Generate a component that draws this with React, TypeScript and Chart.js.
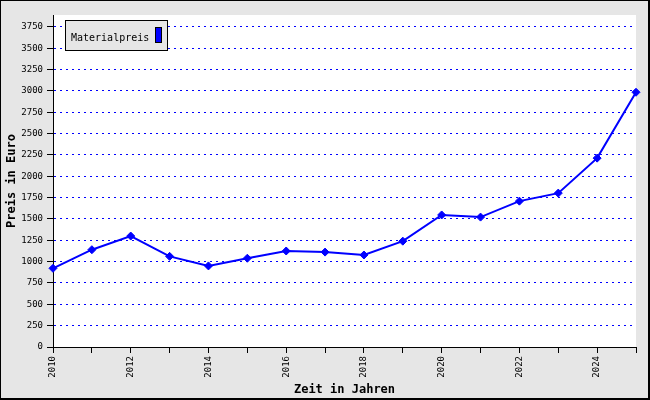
import React, { useEffect, useRef } from "react";
import { Chart, registerables } from "chart.js";

Chart.register(...registerables);

const years = ["2010","2011","2012","2013","2014","2015","2016","2017","2018","2019","2020","2021","2022","2023","2024","2025"];
const materialpreis = [922, 1140, 1300, 1062, 950, 1040, 1125, 1112, 1078, 1240, 1547, 1522, 1709, 1803, 2213, 2985];
const yTicks = [0, 250, 500, 750, 1000, 1250, 1500, 1750, 2000, 2250, 2500, 2750, 3000, 3250, 3500, 3750];
const seriesName = "Materialpreis";
const yTitle = "Preis in Euro";
const xTitle = "Zeit in Jahren";

const MONO = "'DejaVu Sans Mono', monospace";

const framePlugin = {
  id: "frame",
  beforeDraw(chart: any) {
    const { ctx, width, height, chartArea } = chart;
    ctx.save();
    ctx.fillStyle = "#e6e6e6";
    ctx.fillRect(0, 0, width, height);
    ctx.fillStyle = "#ffffff";
    ctx.fillRect(chartArea.left, chartArea.top, chartArea.right - chartArea.left, chartArea.bottom - chartArea.top);
    ctx.fillStyle = "#000000";
    ctx.fillRect(0, 0, width, 1);
    ctx.fillRect(0, 0, 1, height);
    ctx.fillRect(width - 2, 0, 2, height);
    ctx.fillRect(0, height - 2, width, 2);
    ctx.restore();
  },
  afterDraw(chart: any) {
    const { ctx } = chart;
    ctx.save();
    ctx.fillStyle = "#e6e6e6";
    ctx.fillRect(65, 20, 103, 31);
    ctx.strokeStyle = "#000000";
    ctx.lineWidth = 1;
    ctx.strokeRect(65.5, 20.5, 102, 30);
    ctx.fillStyle = "#000000";
    ctx.font = "10px " + MONO;
    ctx.textBaseline = "alphabetic";
    ctx.textAlign = "left";
    ctx.fillText(seriesName, 71, 41);
    ctx.fillStyle = "#0000ff";
    ctx.fillRect(155, 27, 7, 16);
    ctx.strokeRect(155.5, 27.5, 6, 15);
    ctx.restore();
  },
};

export default function App() {
  const ref = useRef<HTMLCanvasElement | null>(null);
  useEffect(() => {
    if (!ref.current) return;
    const chart = new Chart(ref.current, {
      type: "line",
      data: {
        labels: years,
        datasets: [
          {
            label: seriesName,
            data: materialpreis,
            borderColor: "#0000ff",
            backgroundColor: "#0000ff",
            borderWidth: 2,
            pointStyle: "rectRot",
            pointRadius: 4,
            pointBorderWidth: 1,
            tension: 0,
          },
        ],
      },
      options: {
        animation: false,
        responsive: true,
        maintainAspectRatio: false,
        layout: { padding: { left: 0, top: 15, right: 14, bottom: 0 } },
        plugins: { legend: { display: false }, tooltip: { enabled: false } },
        scales: {
          x: {
            type: "category",
            offset: false,
            afterFit(scale: any) { scale.height = 53; },
            grid: { drawOnChartArea: false, drawTicks: true, tickLength: 6, tickColor: "#000000" },
            border: { display: true, color: "#000000", width: 1 },
            ticks: {
              autoSkip: false,
              maxRotation: 90,
              minRotation: 90,
              padding: 3,
              color: "#000000",
              font: { family: MONO, size: 9 },
              callback(_v: any, i: number) {
                const y = parseInt(years[i], 10);
                return y % 2 === 0 ? years[i] : "";
              },
            },
            title: {
              display: true,
              text: xTitle,
              color: "#000000",
              font: { family: MONO, size: 12, weight: "bold" },
              padding: { top: 0, bottom: 3 },
            },
          },
          y: {
            min: 0,
            max: 3890,
            afterFit(scale: any) { scale.width = 53; },
            afterBuildTicks(scale: any) {
              scale.ticks = yTicks.map((v) => ({ value: v }));
            },
            grid: { color: "#0000ff", lineWidth: 1, drawTicks: true, tickLength: 6, tickColor: "#000000" },
            border: { display: true, color: "#000000", width: 1, dash: [2, 4] },
            ticks: {
              color: "#000000",
              padding: 4,
              font: { family: MONO, size: 9 },
              callback(v: any) { return String(v); },
            },
            title: {
              display: true,
              text: yTitle,
              color: "#000000",
              font: { family: MONO, size: 12, weight: "bold" },
              padding: { top: 5, bottom: 0 },
            },
          },
        },
      } as any,
      plugins: [framePlugin],
    });
    return () => chart.destroy();
  }, []);
  return (
    <div style={{ position: "absolute", left: 0, top: 0, width: 650, height: 400 }}>
      <canvas ref={ref} />
    </div>
  );
}
